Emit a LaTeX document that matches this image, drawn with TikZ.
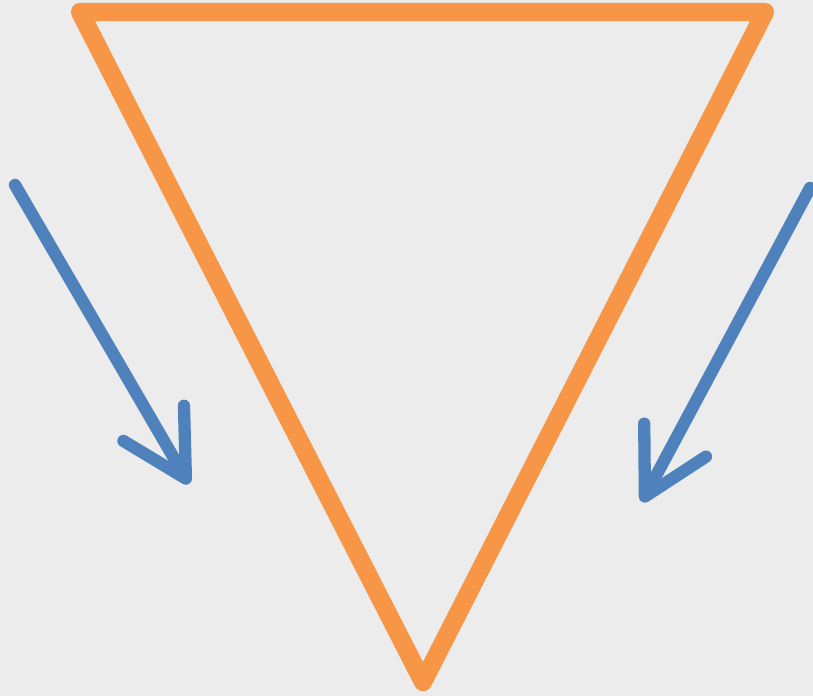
\documentclass[tikz,border=0pt]{standalone}
\usepackage{tikz}
\usepackage{xcolor}
\definecolor{AccOrange}{RGB}{247,150,70}
\definecolor{AccBlue}{RGB}{79,129,189}
\definecolor{PaperGray}{RGB}{236,236,236}
\usetikzlibrary{arrows.meta}

\begin{document}
\begin{tikzpicture}
        % Inverted triangle with two inflow arrows
        \tikzset{
          edge/.style={AccOrange, line width=5.2pt, line join=round, line cap=round},
          flow/.style={AccBlue, line width=3.5pt, line cap=round,
                       -{Straight Barb[length=0.64cm, width=0.7cm, round]}}
        }

        % Background
        \fill[PaperGray] (0,0) rectangle (8.13,6.96);
        \useasboundingbox (0,0) rectangle (8.13,6.96);

        % Corners
        \coordinate (tl) at (0.80, 6.84);
        \coordinate (tr) at (7.65, 6.84);
        \coordinate (bot) at (4.23, 0.14);

        % Arrow ends
        \coordinate (lstart) at (0.15, 5.11);
        \coordinate (lend) at (1.89, 2.12);
        \coordinate (rstart) at (8.10, 5.08);
        \coordinate (rend) at (6.42, 1.94);

        % Triangle
        \draw[edge] (tl) -- (tr) -- (bot) -- cycle;

        % Arrows
        \draw[flow] (lstart) -- (lend);
        \draw[flow] (rstart) -- (rend);
      \end{tikzpicture}
\end{document}
